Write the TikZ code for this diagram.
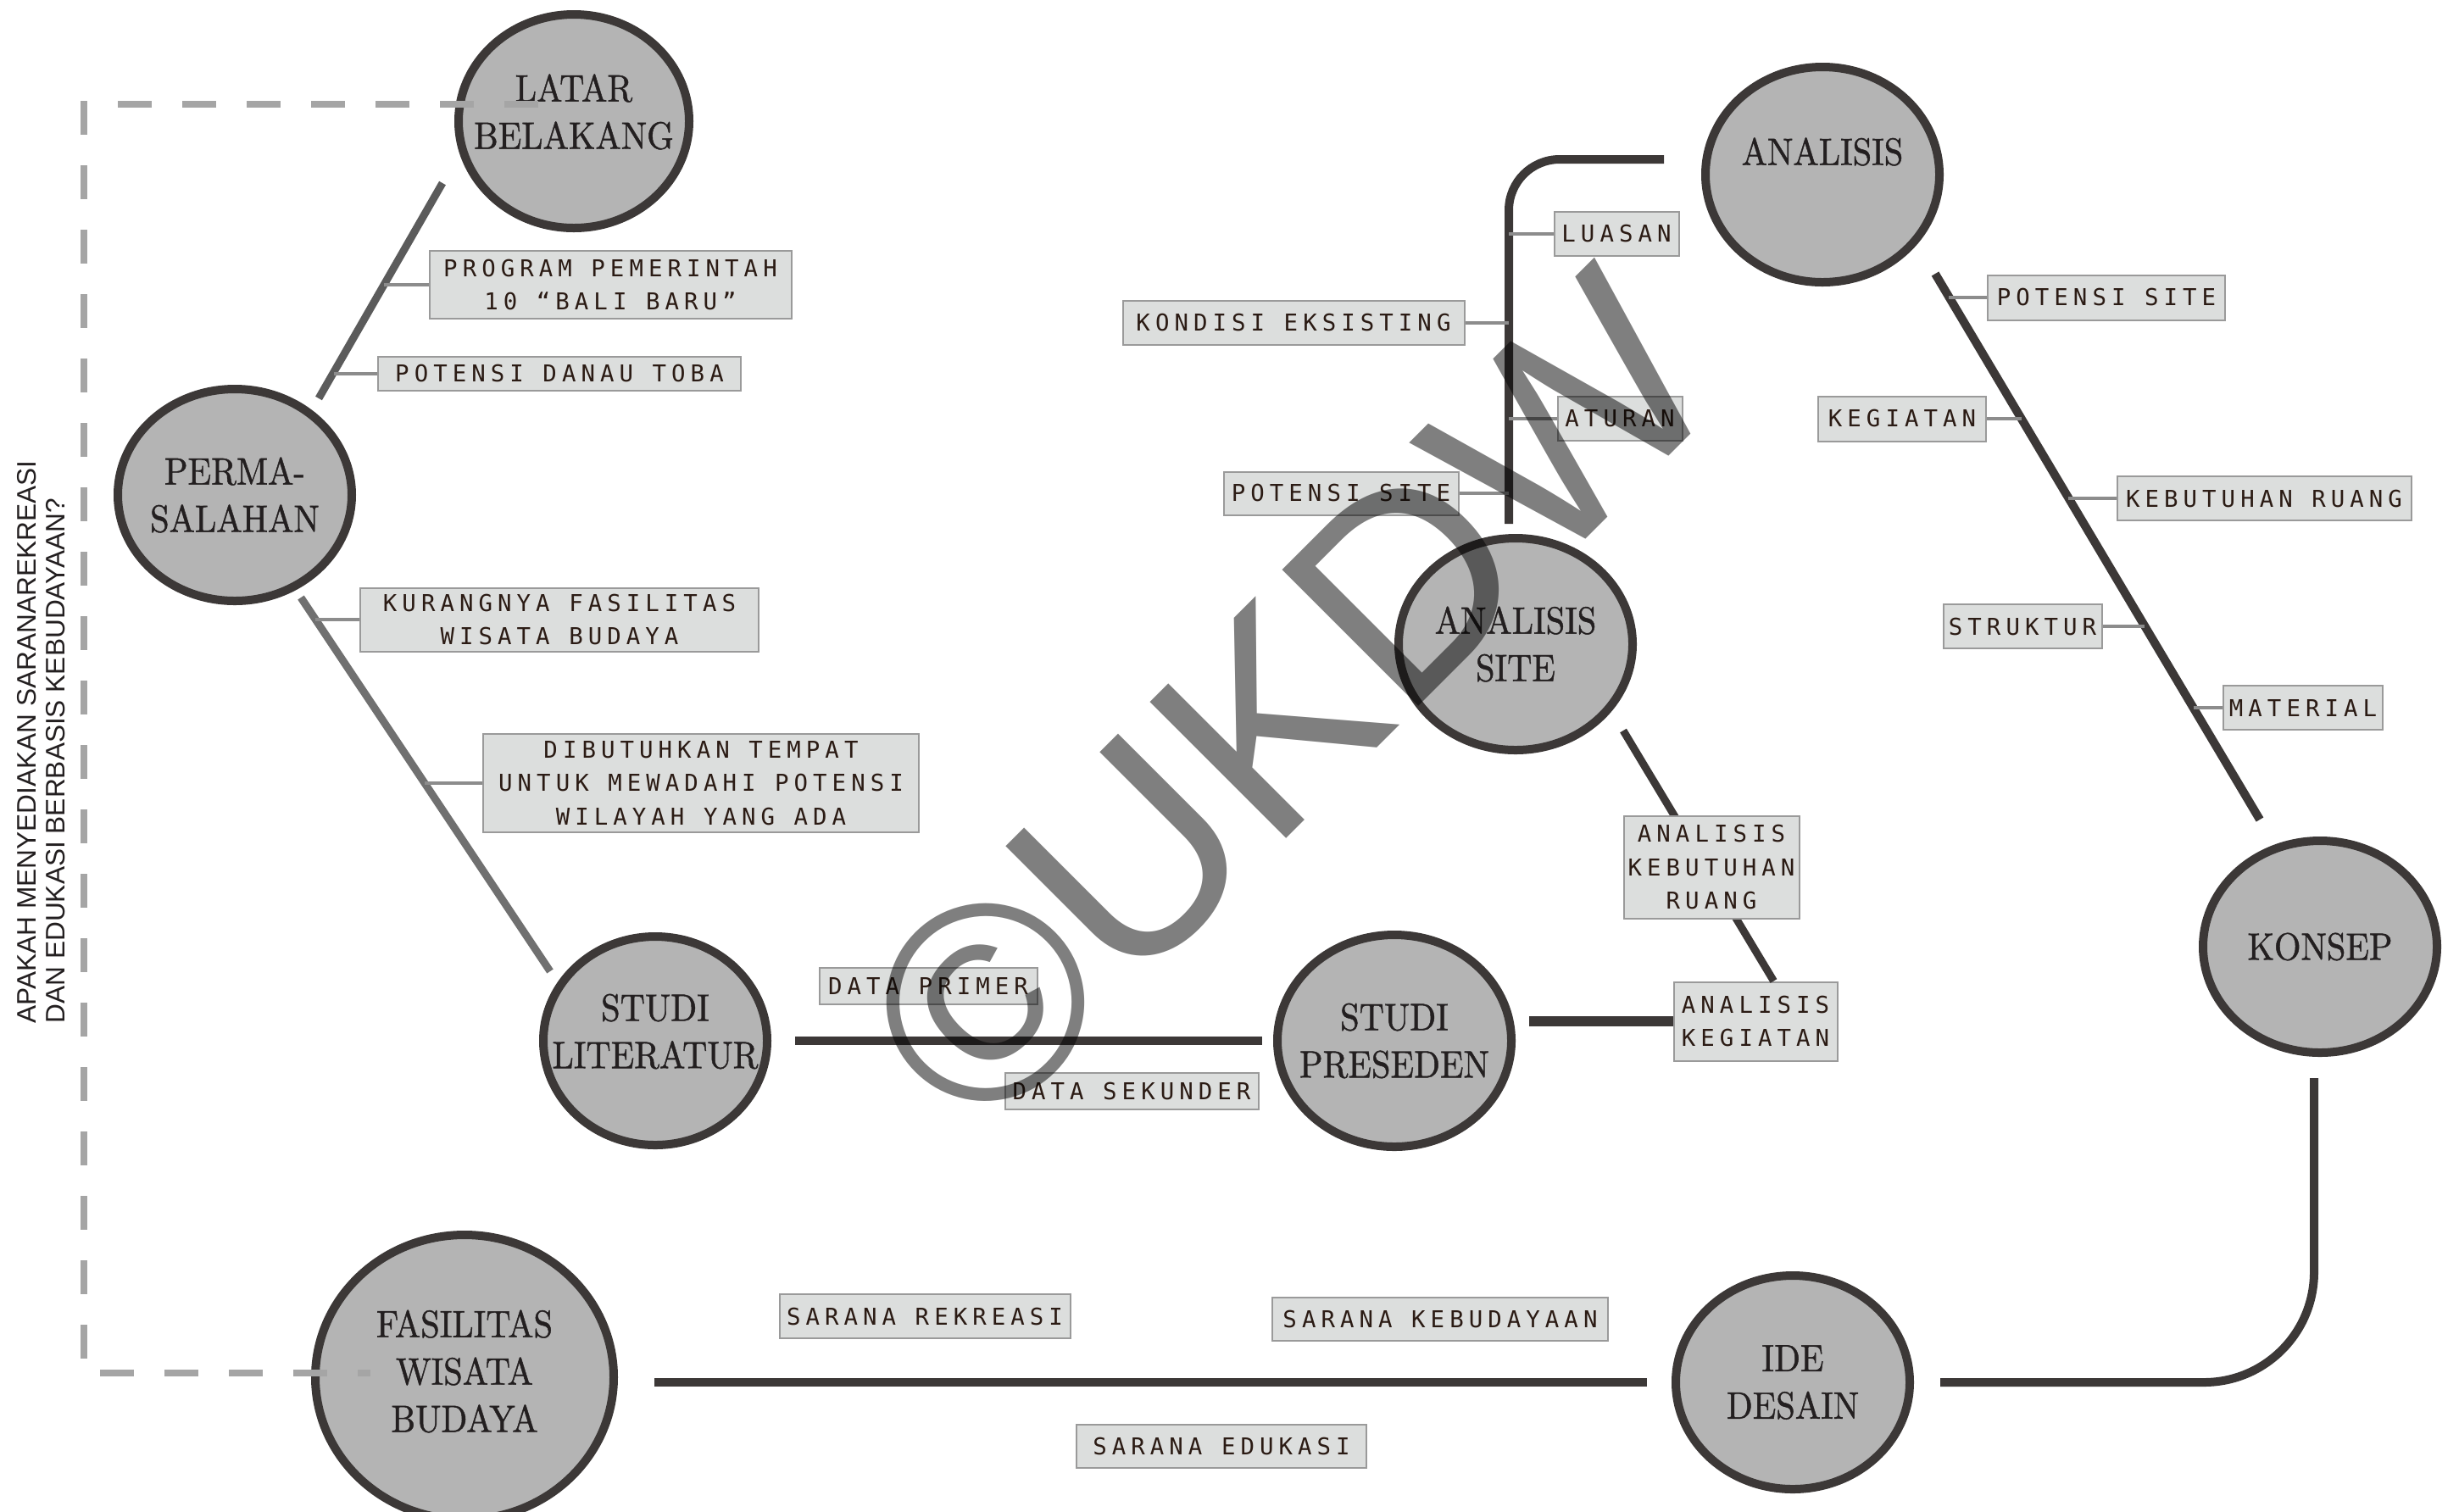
\documentclass[tikz,border=0pt]{standalone}
\usepackage{fontspec}
\usetikzlibrary{positioning,shapes.geometric}

\newfontfamily\stagefont{lmroman10-regular.otf}[FakeStretch=0.9, FakeBold=1]
\newfontfamily\tagfont{DejaVu Sans Mono}[LetterSpace=22]
\newfontfamily\plainsans{Liberation Sans}

\definecolor{inkline}{HTML}{3C3837}
\definecolor{inktext}{HTML}{231F20}
\definecolor{stagefill}{HTML}{B4B4B4}
\definecolor{tagfill}{HTML}{DCDEDD}
\definecolor{tagline}{HTML}{9A9A9A}
\definecolor{tagtext}{HTML}{2B1B14}
\definecolor{tickline}{HTML}{8C8C8C}
\definecolor{askline}{HTML}{A5A5A5}
\definecolor{branchdark}{HTML}{5B5B5B}
\definecolor{branchlight}{HTML}{707070}

\tikzset{
  stage/.style={ellipse, draw=inkline, fill=stagefill, line width=0.1cm,
    minimum width=2.76cm, minimum height=2.50cm, inner sep=0pt},
  stagetext/.style={font=\stagefont\fontsize{12.8}{15.9}\selectfont,
    text=inktext, align=center, inner sep=0pt},
  tag/.style={draw=tagline, fill=tagfill, line width=0.02cm, text=tagtext,
    font=\tagfont\fontsize{7.8}{11.2}\selectfont, align=center,
    inner xsep=0.03cm, inner ysep=0.05cm, minimum height=0.52cm},
  flow/.style={draw=inkline, line width=0.1cm},
  tick/.style={draw=tickline, line width=0.035cm},
  question/.style={draw=askline, line width=0.08cm, dash pattern=on 0.40cm off 0.36cm},
  asktext/.style={font=\plainsans\fontsize{9}{9.7}\selectfont, text=inktext,
    align=left, inner sep=0pt},
  watermark/.style={font=\plainsans\fontsize{94}{94}\selectfont, text=black,
    text opacity=0.5, inner sep=0pt}
}

\begin{document}
\begin{tikzpicture}[on grid]
 \useasboundingbox (0,0) rectangle (29.01,-17.83);
 % stages
 \node [stage, minimum width=2.72cm, minimum height=2.52cm,
   label={[stagetext, yshift=0.11cm]center:{LATAR\\BELAKANG}}] (latar) at (6.77,-1.43) {};
 \node [stage, below left=4.41cm and 4.00cm of latar,
   label={[stagetext]center:{PERMA-\\SALAHAN}}] (perma) {};
 \node [stage, below right=6.44cm and 4.96cm of perma, minimum width=2.64cm, minimum height=2.46cm,
   label={[stagetext, yshift=0.11cm]center:{STUDI\\LITERATUR}}] (studlit) {};
 \node [stage, right=8.72cm of studlit,
   label={[stagetext]center:{STUDI\\PRESEDEN}}] (presed) {};
 \node [stage, above right=4.68cm and 1.43cm of presed,
   label={[stagetext]center:{ANALISIS\\SITE}}] (asite) {};
 \node [stage, above right=5.54cm and 3.62cm of asite, minimum height=2.54cm,
   label={[stagetext, yshift=0.27cm]center:ANALISIS}] (anal) {};
 \node [stage, below right=9.11cm and 5.87cm of anal,
   label={[stagetext]center:KONSEP}] (konsep) {};
 \node [stage, below left=5.14cm and 6.22cm of konsep, minimum height=2.52cm,
   label={[stagetext]center:{IDE\\DESAIN}}] (ide) {};
 \node [stage, below left=3.97cm and 2.25cm of studlit, minimum width=3.52cm, minimum height=3.36cm,
   label={[stagetext, yshift=0.07cm]center:{FASILITAS\\WISATA\\BUDAYA}}] (fasil) {};

 % research question frame
 \draw [question] ([shift={(-0.42,0.20)}]latar.center) -| ([shift={(-4.49,0.05)}]fasil.center)
   -- ([shift={(-1.11,0.05)}]fasil.center);
 \node [asktext, rotate=90, anchor=north west] (ask) at (0.20,-12.08)
   {APAKAH MENYEDIAKAN SARANAREKREASI\\DAN EDUKASI BERBASIS KEBUDAYAAN?};

 % branches
 \draw [flow, draw=branchdark, line width=0.09cm] ([shift={(-1.55,-0.73)}]latar.center)
   -- coordinate [pos=0.472] (tprog) coordinate [pos=0.878] (tdanau)
   ([shift={(0.99,1.14)}]perma.center);
 \draw [flow, draw=branchlight, line width=0.09cm] ([shift={(0.78,-1.21)}]perma.center)
   -- coordinate [pos=0.058] (tkur) coordinate [pos=0.497] (tdib)
   ([shift={(-1.24,0.82)}]studlit.center);
 \draw [flow, rounded corners=0.6cm] ([shift={(-0.08,1.42)}]asite.center) coordinate (sitespine)
   |- ([shift={(-1.87,0.18)}]anal.center);
 \draw [flow] ([shift={(1.33,-1.17)}]anal.center)
   -- coordinate [pos=0.043] (tpot) coordinate [pos=0.265] (tkeg) coordinate [pos=0.411] (truang)
      coordinate [pos=0.646] (tstruk) coordinate [pos=0.795] (tmat)
   ([shift={(-0.71,1.50)}]konsep.center);
 \draw [flow] ([xshift=1.65cm]studlit.center) -- ([xshift=-1.56cm]presed.center);
 \draw [flow, rounded corners=1.3cm] ([shift={(-0.07,-1.55)}]konsep.center) |- ([xshift=1.74cm]ide.center);
 \draw [flow] ([xshift=2.24cm]fasil.center |- ide.center) -- ([xshift=-1.72cm]ide.center);

 % tags
 \node [tag, minimum width=1.93cm, minimum height=0.93cm, above right=0.23cm and 4.26cm of presed]
   (akeg) {ANALISIS\\KEGIATAN};
 \draw [flow, line width=0.12cm] ([xshift=1.59cm]presed.center |- akeg.west) -- (akeg.west);
 \draw [flow, line width=0.09cm] ([shift={(1.27,-1.02)}]asite.center) -- ([xshift=0.215cm]akeg.north);
 \node [tag, minimum width=2.07cm, minimum height=1.21cm, below right=2.63cm and 2.31cm of asite]
   (akeb) {ANALISIS\\KEBUTUHAN\\RUANG};

 \node [tag, minimum width=4.27cm, minimum height=0.80cm, below right=1.93cm and 0.43cm of latar]
   (prog) {PROGRAM PEMERINTAH\\10 “BALI BARU”};
 \node [tag, minimum width=4.28cm, minimum height=0.40cm, below left=2.98cm and 0.17cm of latar]
   (danau) {POTENSI DANAU TOBA};
 \node [tag, minimum width=4.70cm, minimum height=0.75cm, below right=1.47cm and 3.83cm of perma]
   (kurang) {KURANGNYA FASILITAS\\WISATA BUDAYA};
 \node [tag, minimum width=5.14cm, minimum height=1.16cm, below right=3.40cm and 5.50cm of perma]
   (dibut) {DIBUTUHKAN TEMPAT\\UNTUK MEWADAHI POTENSI\\WILAYAH YANG ADA};

 \node [tag, minimum width=1.47cm, below left=0.70cm and 2.43cm of anal] (luasan) {LUASAN};
 \node [tag, minimum width=4.03cm, above left=3.79cm and 2.62cm of asite] (kondisi) {KONDISI EKSISTING};
 \node [tag, minimum width=1.47cm, above right=2.66cm and 1.23cm of asite] (aturan) {ATURAN};
 \node [tag, minimum width=2.77cm, minimum height=0.51cm, above left=1.78cm and 2.06cm of asite]
   (sitepot) {POTENSI SITE};

 \node [tag, minimum width=2.57cm, minimum height=0.43cm, above right=0.65cm and 3.22cm of studlit]
   (primer) {DATA PRIMER};
 \node [tag, minimum width=2.99cm, minimum height=0.43cm, below left=0.59cm and 3.10cm of presed]
   (sekunder) {DATA SEKUNDER};

 \node [tag, minimum width=2.80cm, minimum height=0.53cm, below right=1.45cm and 3.35cm of anal]
   (potsite) {POTENSI SITE};
 \node [tag, minimum width=1.98cm, minimum height=0.53cm, below right=2.88cm and 0.94cm of anal]
   (kegiatan) {KEGIATAN};
 \node [tag, minimum width=3.47cm, below right=3.82cm and 5.21cm of anal] (kebruang) {KEBUTUHAN RUANG};
 \node [tag, minimum width=1.87cm, below right=5.33cm and 2.36cm of anal] (struktur) {STRUKTUR};
 \node [tag, minimum width=1.88cm, above left=2.82cm and 0.20cm of konsep] (material) {MATERIAL};

 \node [tag, minimum width=3.43cm, above right=0.72cm and 5.43cm of fasil] (rekreasi) {SARANA REKREASI};
 \node [tag, minimum width=3.96cm, minimum height=0.51cm, above left=0.75cm and 4.16cm of ide]
   (budaya) {SARANA KEBUDAYAAN};
 \node [tag, minimum width=3.42cm, minimum height=0.51cm, below left=0.75cm and 6.74cm of ide]
   (edukasi) {SARANA EDUKASI};

 % ticks
 \draw [tick] (prog.west) -- (prog.west -| tprog);
 \draw [tick] (danau.west) -- (danau.west -| tdanau);
 \draw [tick] (kurang.west) -- (kurang.west -| tkur);
 \draw [tick] (dibut.west) -- (dibut.west -| tdib);
 \draw [tick] (luasan.west) -- (luasan.west -| sitespine);
 \draw [tick] (kondisi.east) -- (kondisi.east -| sitespine);
 \draw [tick] (aturan.west) -- (aturan.west -| sitespine);
 \draw [tick] (sitepot.east) -- (sitepot.east -| sitespine);
 \draw [tick] (potsite.west) -- (potsite.west -| tpot);
 \draw [tick] (kegiatan.east) -- (kegiatan.east -| tkeg);
 \draw [tick] (kebruang.west) -- (kebruang.west -| truang);
 \draw [tick] (struktur.east) -- (struktur.east -| tstruk);
 \draw [tick] (material.west) -- (material.west -| tmat);

 % watermark
 \node [watermark, rotate=45] (ukdw) at (15.20,-8.26) {©UKDW};
\end{tikzpicture}
\end{document}
